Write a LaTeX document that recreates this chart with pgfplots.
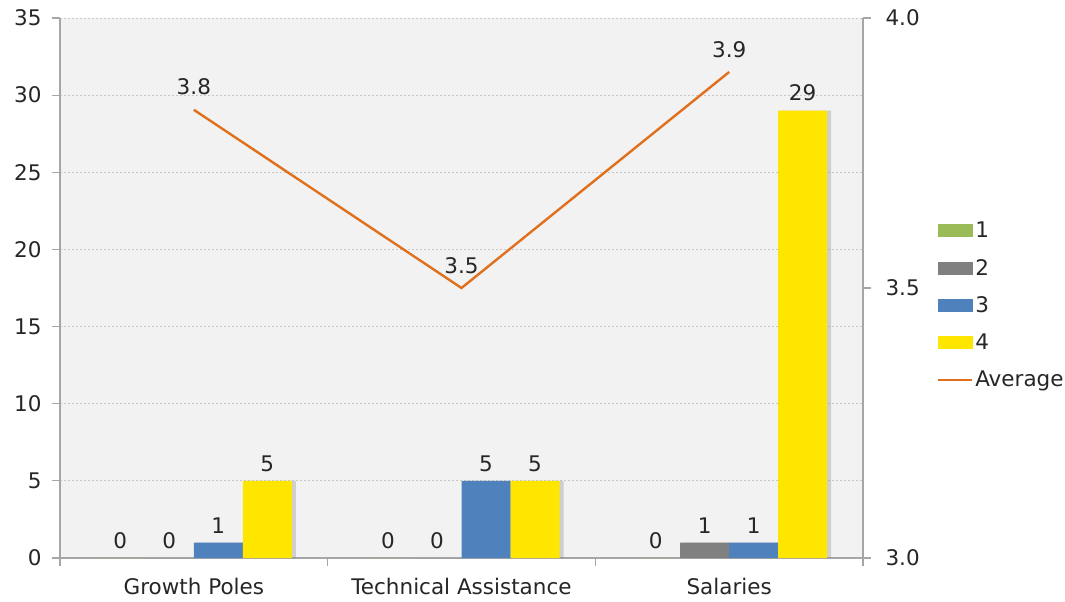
\documentclass[border=0pt]{standalone}
\usepackage{fontspec}
\setmainfont{DejaVu Sans}
\usepackage{pgfplots}
\pgfplotsset{compat=1.18}
\usetikzlibrary{shadows}

\definecolor{cGreen}{HTML}{9BBB59}
\definecolor{cGray}{HTML}{808080}
\definecolor{cBlue}{HTML}{4F81BD}
\definecolor{cYellow}{HTML}{FFE600}
\definecolor{cOrange}{HTML}{E0701E}
\definecolor{cAxis}{HTML}{A6A6A6}
\definecolor{cText}{HTML}{262626}

\newcommand{\chartfont}{\fontsize{21.5}{25}\selectfont}

\pgfplotsset{
  base/.style={
    at={(0pt,0pt)}, anchor=south west,
    scale only axis, width=803pt, height=540pt,
    xmin=-0.5, xmax=2.5,
    /pgf/number format/assume math mode=true,
    tick label style={font=\chartfont, text=cText},
    axis line style={cAxis, line width=1.2pt},
    tick style={cAxis, line width=1.2pt},
    tick align=outside,
    major tick length=8pt,
    minor tick length=8pt,
  },
}

\begin{document}
\begin{tikzpicture}[font=\chartfont]
\path[use as bounding box] (-60pt,-44pt) rectangle (1005pt,558pt);

\begin{axis}[base,
  ymin=0, ymax=35, ytick={0,5,...,35},
  axis x line*=bottom, axis y line*=left,
  axis background/.style={fill=black!5},
  ymajorgrids, grid style={black!22, dash pattern=on 2pt off 2pt, line width=0.8pt},
  xtick={0,1,2},
  xticklabels={Growth Poles,Technical Assistance,Salaries},
  minor xtick={-0.5,0.5,1.5,2.5},
  major x tick style={draw=none},
  xticklabel style={yshift=-9pt},
  yticklabel style={xshift=-7pt},
  ybar=0pt, bar width=49pt,
  nodes near coords,
  every node near coord/.append style={font=\chartfont, text=cText, yshift=6pt},
]
\addplot[fill=cGreen, draw=none] coordinates {(0,0) (1,0) (2,0)};
\addplot[fill=cGray, draw=none, drop shadow={shadow xshift=3pt, shadow yshift=0pt, opacity=0.3}] coordinates {(0,0) (1,0) (2,1)};
\addplot[fill=cBlue, draw=none, drop shadow={shadow xshift=3pt, shadow yshift=0pt, opacity=0.3}] coordinates {(0,1) (1,5) (2,1)};
\addplot[fill=cYellow, draw=none, drop shadow={shadow xshift=4pt, shadow yshift=0pt, opacity=0.3}] coordinates {(0,5) (1,5) (2,29)};
\end{axis}

\begin{axis}[base,
  ymin=3, ymax=4, ytick={3,3.5,4},
  axis y line*=right, axis x line=none,
  yticklabel style={xshift=11pt, /pgf/number format/.cd, fixed, fixed zerofill, precision=1},
  legend style={draw=none, fill=none, at={(1.088,0.63)}, anchor=north west,
    font=\chartfont, text=cText, row sep=16pt},
  legend cell align=left,
]
\addlegendimage{legend image code/.code={\fill[cGreen] (0pt,-6pt) rectangle (34pt,6pt);}}
\addlegendentry{1}
\addlegendimage{legend image code/.code={\fill[cGray] (0pt,-6pt) rectangle (34pt,6pt);}}
\addlegendentry{2}
\addlegendimage{legend image code/.code={\fill[cBlue] (0pt,-6pt) rectangle (34pt,6pt);}}
\addlegendentry{3}
\addlegendimage{legend image code/.code={\fill[cYellow] (0pt,-6pt) rectangle (34pt,6pt);}}
\addlegendentry{4}
\addplot[cOrange, line width=2.4pt, mark=none,
  legend image code/.code={\draw[cOrange, line width=2.4pt] (0pt,0pt) -- (34pt,0pt);},
  nodes near coords={\pgfmathprintnumber[fixed,fixed zerofill,precision=1]{\pgfplotspointmeta}},
  every node near coord/.append style={font=\chartfont, text=cText, yshift=10pt},
] coordinates {(0,3.83) (1,3.5) (2,3.9)};
\addlegendentry{Average}
\end{axis}
\end{tikzpicture}
\end{document}
